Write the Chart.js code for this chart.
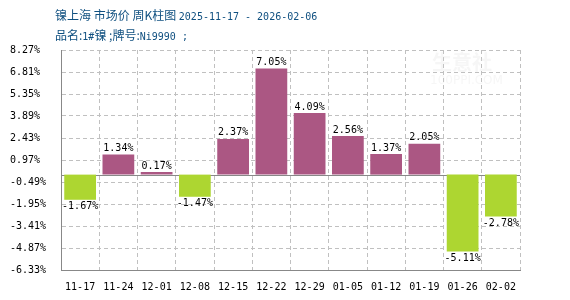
<!DOCTYPE html>
<html>
<head>
<meta charset="utf-8">
<script src="https://cdn.jsdelivr.net/npm/chart.js@4"></script>
<style>
  body { margin: 0; background: #fff; }
  #wrap { position: relative; width: 570px; height: 300px; }
  .title { position: absolute; left: 55px; color: #105080; font-size: 12px; white-space: nowrap; }
  .cn { font-family: "Noto Sans CJK SC", sans-serif; }
  .mono { font-family: "DejaVu Sans Mono", monospace; font-size: 10px; }
</style>
</head>
<body>
<div id="wrap">
  <div class="title" style="top:6px"><span class="cn">镍上海 市场价 周K柱图 </span><span class="mono">2025-11-17 - 2026-02-06</span></div>
  <div class="title" style="top:26px"><span class="cn">品名:</span><span class="mono">1#</span><span class="cn">镍 ;牌号:</span><span class="mono">Ni9990 ;</span></div>
  <canvas id="chart" width="570" height="300"></canvas>
</div>
<script>
const weeks = ["11-17", "11-24", "12-01", "12-08", "12-15", "12-22", "12-29", "01-05", "01-12", "01-19", "01-26", "02-02"];
const changes = [-1.67, 1.34, 0.17, -1.47, 2.37, 7.05, 4.09, 2.56, 1.37, 2.05, -5.11, -2.78];
const yTicks = [8.27, 6.81, 5.35, 3.89, 2.43, 0.97, -0.49, -1.95, -3.41, -4.87, -6.33];

const upColor = "#ab5783";
const downColor = "#add631";

// labels above/below each bar
const valueLabels = {
  id: "valueLabels",
  afterDatasetsDraw(chart) {
    const ctx = chart.ctx;
    const meta = chart.getDatasetMeta(0);
    ctx.save();
    ctx.font = "10px 'DejaVu Sans Mono', monospace";
    ctx.fillStyle = "#000";
    ctx.textAlign = "center";
    meta.data.forEach((bar, i) => {
      const v = changes[i];
      if (v >= 0) {
        ctx.textBaseline = "bottom";
        ctx.fillText(v.toFixed(2) + "%", bar.x, bar.y - 1);
      } else {
        ctx.textBaseline = "top";
        ctx.fillText(v.toFixed(2) + "%", bar.x, bar.y + 2);
      }
    });
    ctx.restore();
  }
};

// zero line + faint watermark
const extras = {
  id: "extras",
  beforeDatasetsDraw(chart) {
    const ctx = chart.ctx;
    const area = chart.chartArea;
    const y0 = chart.scales.y.getPixelForValue(0);
    ctx.save();
    ctx.fillStyle = "rgba(220,220,220,0.25)";
    ctx.font = "bold 20px 'Noto Sans CJK SC', sans-serif";
    ctx.fillText("生意社", 432, 70);
    ctx.font = "12px 'DejaVu Sans', sans-serif";
    ctx.fillText("100PPI.COM", 430, 84);
    ctx.strokeStyle = "#888";
    ctx.lineWidth = 1;
    ctx.beginPath();
    ctx.moveTo(area.left, Math.round(y0) + 0.5);
    ctx.lineTo(area.right, Math.round(y0) + 0.5);
    ctx.stroke();
    ctx.restore();
  }
};

new Chart(document.getElementById("chart"), {
  type: "bar",
  data: {
    labels: weeks,
    datasets: [{
      data: changes,
      backgroundColor: changes.map(v => v >= 0 ? upColor : downColor),
      categoryPercentage: 1,
      barPercentage: 0.83
    }]
  },
  options: {
    responsive: false,
    animation: false,
    layout: { padding: { left: 10, right: 50, top: 50, bottom: 0 } },
    plugins: { legend: { display: false }, tooltip: { enabled: false } },
    scales: {
      x: {
        afterFit: s => { s.height = 30; },
        grid: { color: "#c0c0c0", drawTicks: false },
        border: { color: "#888", width: 1, dash: [4, 3] },
        ticks: { color: "#000", font: { family: "DejaVu Sans Mono", size: 10 }, padding: 11, maxRotation: 0, autoSkip: false }
      },
      y: {
        min: -6.33,
        max: 8.27,
        afterFit: s => { s.width = 51; },
        afterBuildTicks: s => { s.ticks = yTicks.map(v => ({ value: v })); },
        grid: { color: "#c0c0c0", drawTicks: false },
        border: { color: "#888", width: 1, dash: [4, 3] },
        ticks: {
          color: "#000",
          crossAlign: "far",
          font: { family: "DejaVu Sans Mono", size: 10 },
          callback: v => v.toFixed(2) + "%"
        }
      }
    }
  },
  plugins: [extras, valueLabels]
});
</script>
</body>
</html>
